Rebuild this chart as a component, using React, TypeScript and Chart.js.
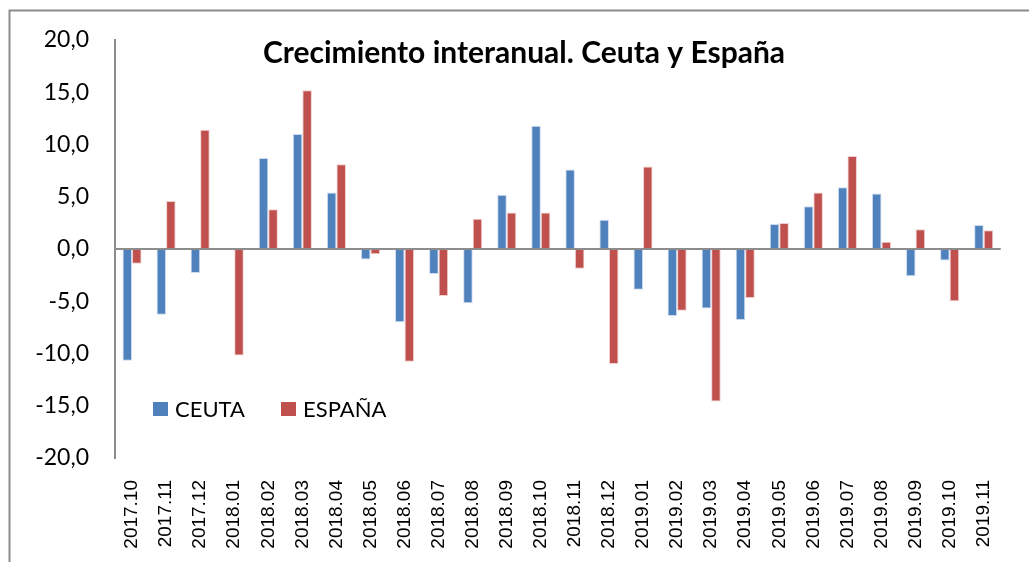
import React, { useEffect, useRef } from "react";
import { Chart, registerables } from "chart.js";

Chart.register(...registerables);

const labels = [
  "2017.10", "2017.11", "2017.12", "2018.01", "2018.02", "2018.03", "2018.04", "2018.05",
  "2018.06", "2018.07", "2018.08", "2018.09", "2018.10", "2018.11", "2018.12", "2019.01",
  "2019.02", "2019.03", "2019.04", "2019.05", "2019.06", "2019.07", "2019.08", "2019.09",
  "2019.10", "2019.11",
];

const ceuta = [
  -10.7, -6.3, -2.3, 0.0, 8.7, 11.0, 5.4, -1.0, -7.0, -2.4, -5.2, 5.2,
  11.8, 7.6, 2.8, -3.9, -6.4, -5.7, -6.8, 2.4, 4.1, 5.9, 5.3, -2.6, -1.1, 2.3,
];
const espana = [
  -1.4, 4.6, 11.4, -10.2, 3.8, 15.2, 8.1, -0.5, -10.8, -4.5, 2.9, 3.5,
  3.5, -1.9, -11.0, 7.9, -5.9, -14.6, -4.7, 2.5, 5.4, 8.9, 0.7, 1.9, -5.0, 1.8,
];

const seriesNames = ["CEUTA", "ESPAÑA"];
const seriesColors = ["#4F81BD", "#C0504D"];
const titleText = "Crecimiento interanual. Ceuta y España";
const yMin = -20;
const yMax = 20;
const yStep = 5;

const decor = {
  id: "decor",
  beforeDraw(chart: any) {
    const ctx = chart.ctx;
    ctx.save();
    ctx.fillStyle = "#ffffff";
    ctx.fillRect(0, 0, chart.width, chart.height);
    ctx.strokeStyle = "#8c8c8c";
    ctx.lineWidth = 2;
    ctx.strokeRect(9.5, 10.5, chart.width + 20, chart.height + 20);
    ctx.restore();
  },
  afterDraw(chart: any) {
    const ctx = chart.ctx;
    const area = chart.chartArea;
    ctx.save();
    // title
    ctx.fillStyle = "#000";
    ctx.font = "bold 30px Lato";
    ctx.textAlign = "center";
    ctx.textBaseline = "middle";
    ctx.fillText(titleText, 524, 53);
    // legend
    ctx.font = "22px Lato";
    ctx.textAlign = "left";
    const ly = 409;
    let lx = area.left + 38;
    chart.data.datasets.forEach((ds: any) => {
      ctx.fillStyle = ds.backgroundColor;
      ctx.fillRect(lx, ly - 7, 15, 14);
      ctx.fillStyle = "#000";
      ctx.fillText(ds.label, lx + 22, ly + 1);
      lx += 128;
    });
    ctx.restore();
  },
};

export default function App() {
  const ref = useRef<HTMLCanvasElement>(null);
  useEffect(() => {
    const chart = new Chart(ref.current!, {
      type: "bar",
      data: {
        labels,
        datasets: [
          {
            label: seriesNames[0],
            data: ceuta,
            backgroundColor: seriesColors[0],
            borderColor: "rgba(200,215,240,0.9)",
            borderWidth: 1,
            barPercentage: 1,
            categoryPercentage: 0.56,
          },
          {
            label: seriesNames[1],
            data: espana,
            backgroundColor: seriesColors[1],
            borderColor: "rgba(240,200,200,0.9)",
            borderWidth: 1,
            barPercentage: 1,
            categoryPercentage: 0.56,
          },
        ],
      },
      options: {
        animation: false,
        responsive: false,
        maintainAspectRatio: false,
        layout: { padding: { left: 0, top: 40, right: 26, bottom: 0 } },
        plugins: {
          legend: { display: false },
          title: { display: false },
          tooltip: { enabled: false },
        },
        scales: {
          x: {
            grid: { display: false, drawTicks: false },
            border: { display: false },
            ticks: {
              minRotation: 90,
              maxRotation: 90,
              autoSkip: false,
              padding: 22,
              color: "#000",
              font: { family: "'Liberation Sans', Arial", size: 19 },
            },
            afterFit(scale: any) {
              scale.height = 104;
            },
          },
          y: {
            min: yMin,
            max: yMax,
            border: { display: true, color: "#8c8c8c", width: 2 },
            grid: {
              drawTicks: false,
              lineWidth: 2,
              color: (c: any) => (c.tick && c.tick.value === 0 ? "#8c8c8c" : "rgba(0,0,0,0)"),
            },
            ticks: {
              stepSize: yStep,
              padding: 26,
              color: "#000",
              font: { family: "Lato", size: 23 },
              callback: (v: any) => Number(v).toFixed(1).replace(".", ","),
            },
            afterFit(scale: any) {
              scale.width = 115;
            },
          },
        },
      },
      plugins: [decor],
    });
    return () => chart.destroy();
  }, []);
  return (
    <div style={{ position: "fixed", left: 0, top: 0, width: 1029, height: 562 }}>
      <canvas ref={ref} width={1029} height={562} style={{ display: "block" }} />
    </div>
  );
}
